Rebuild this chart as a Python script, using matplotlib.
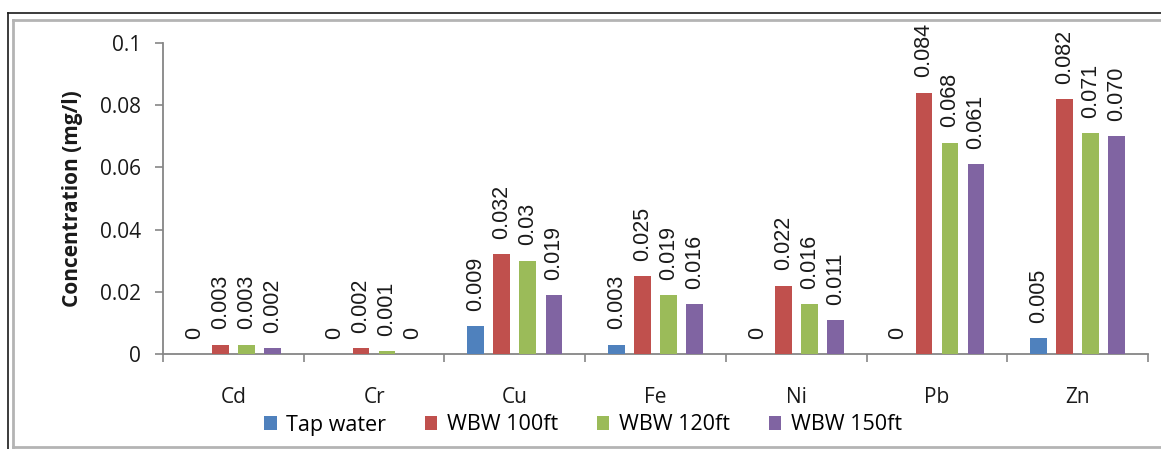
import matplotlib
matplotlib.use("Agg")
import matplotlib.pyplot as plt
from matplotlib.lines import Line2D
from matplotlib.patches import Patch
import numpy as np

# Heavy metal concentrations by water source
metals = ["Cd", "Cr", "Cu", "Fe", "Ni", "Pb", "Zn"]
series_names = ["Tap water", "WBW 100ft", "WBW 120ft", "WBW 150ft"]

tap_water = [0, 0, 0.009, 0.003, 0, 0, 0.005]
wbw_100ft = [0.003, 0.002, 0.032, 0.025, 0.022, 0.084, 0.082]
wbw_120ft = [0.003, 0.001, 0.030, 0.019, 0.016, 0.068, 0.071]
wbw_150ft = [0.002, 0, 0.019, 0.016, 0.011, 0.061, 0.070]

tap_labels = ["0", "0", "0.009", "0.003", "0", "0", "0.005"]
wbw_100_labels = ["0.003", "0.002", "0.032", "0.025", "0.022", "0.084", "0.082"]
wbw_120_labels = ["0.003", "0.001", "0.03", "0.019", "0.016", "0.068", "0.071"]
wbw_150_labels = ["0.002", "0", "0.019", "0.016", "0.011", "0.061", "0.070"]

y_ticks = [0, 0.02, 0.04, 0.06, 0.08, 0.1]
y_tick_labels = ["0", "0.02", "0.04", "0.06", "0.08", "0.1"]

colors = ["#4F81BD", "#C0504D", "#9BBB59", "#8064A2"]

W, H = 1161, 449
fig = plt.figure(figsize=(W / 100, H / 100), dpi=100)
ax = fig.add_axes([163 / W, (H - 354) / H, (1148 - 163) / W, (354 - 43) / H])

tick_font = "Open Sans"
label_font = "Liberation Sans"
axis_color = "#868686"

x = np.arange(len(metals))
step = 0.185
width = 0.118
all_values = [tap_water, wbw_100ft, wbw_120ft, wbw_150ft]
all_labels = [tap_labels, wbw_100_labels, wbw_120_labels, wbw_150_labels]

for i, (vals, labs, col) in enumerate(zip(all_values, all_labels, colors)):
    pos = x + (i - 1.5) * step
    bars = ax.bar(pos, vals, width=width, color=col, zorder=3)
    for rect, txt in zip(bars, labs):
        ax.annotate(txt, (rect.get_x() + rect.get_width() / 2, rect.get_height()),
                    xytext=(0, 11), textcoords="offset points",
                    rotation=90, ha="center", va="bottom",
                    fontsize=15.5, family=label_font, color="#1a1a1a")

ax.set_xlim(-0.5, len(metals) - 0.5)
ax.set_ylim(0, 0.1)
ax.set_yticks(y_ticks)
ax.set_yticklabels(y_tick_labels, family=tick_font, fontsize=15, color="#1a1a1a")

# category labels centered, ticks on category boundaries
ax.set_xticks(x)
ax.set_xticklabels(metals, family=tick_font, fontsize=15, color="#1a1a1a")
ax.tick_params(axis="x", which="major", length=0, pad=24)
ax.set_xticks(np.arange(-0.5, len(metals)), minor=True)
ax.tick_params(axis="x", which="minor", length=6, width=1.2, color=axis_color, direction="out")
ax.tick_params(axis="y", length=6, width=1.2, color=axis_color, pad=10)

for side in ["top", "right"]:
    ax.spines[side].set_visible(False)
for side in ["left", "bottom"]:
    ax.spines[side].set_color(axis_color)
    ax.spines[side].set_linewidth(1.3)

ax.set_ylabel("Concentration (mg/l)", family=tick_font, fontweight="bold",
              fontsize=15, color="#1a1a1a", labelpad=12)

handles = [Patch(facecolor=c, edgecolor="none") for c in colors]
fig.legend(handles, series_names, loc="center", bbox_to_anchor=(583 / W, 1 - 425 / H),
           ncol=4, frameon=False, handlelength=0.58, handleheight=0.58,
           handletextpad=0.45, columnspacing=1.8,
           prop={"family": tick_font, "size": 15.5})

# frame lines around the chart area
def hline(y, x0, x1, color, lw):
    fig.add_artist(Line2D([x0 / W, x1 / W], [1 - y / H, 1 - y / H],
                          transform=fig.transFigure, color=color, lw=lw))

def vline(xp, y0, y1, color, lw):
    fig.add_artist(Line2D([xp / W, xp / W], [1 - y0 / H, 1 - y1 / H],
                          transform=fig.transFigure, color=color, lw=lw))

hline(13, 8, W, "#1a1a1a", 1.2)
vline(8, 13, H, "#1a1a1a", 1.2)
hline(20, 13, W, "#b4b4b4", 2.0)
vline(13, 20, 447, "#b4b4b4", 2.0)
hline(447, 13, W, "#b4b4b4", 2.0)

fig.savefig("out.png", dpi=100)
